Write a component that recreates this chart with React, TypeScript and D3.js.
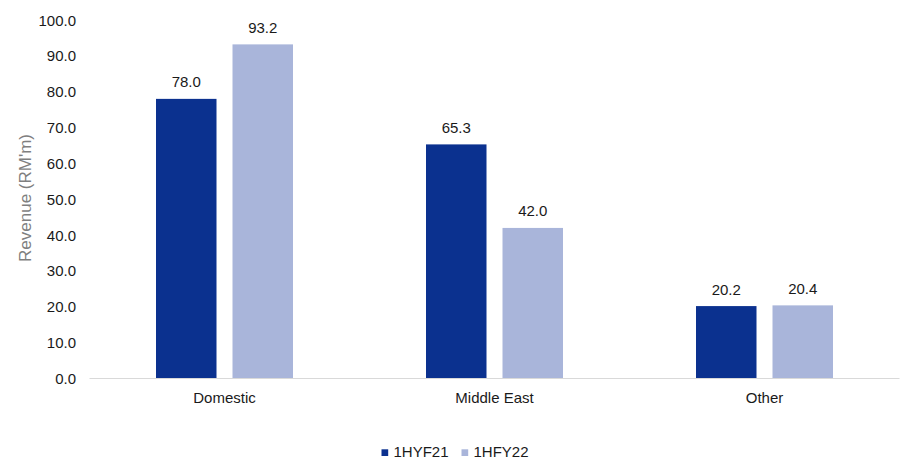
import React from "react";
import * as d3 from "d3";

const categories = ["Domestic", "Middle East", "Other"];
const seriesNames = ["1HYF21", "1HFY22"];
const series1HYF21 = [78.0, 65.3, 20.2];
const series1HFY22 = [93.2, 42.0, 20.4];
const yTicks = [0, 10, 20, 30, 40, 50, 60, 70, 80, 90, 100];
const colors = ["#0B318F", "#A9B5DA"];

export default function App() {
  const W = 905, H = 460;
  const x0 = d3.scaleBand<string>().domain(categories).range([89.5, 899.5]).paddingInner(0).paddingOuter(0);
  const y = d3.scaleLinear().domain([0, 100]).range([378.5, 20]);
  const barW = 60.5;
  const gap = 16;
  const seriesVals = [series1HYF21, series1HFY22];
  const font = "Liberation Sans, Arial, sans-serif";

  return (
    <svg width={W} height={H} style={{ position: "absolute", left: 0, top: 0 }} fontFamily={font}>
      {yTicks.map((t) => (
        <text key={t} x={76} y={y(t) + 5.5} textAnchor="end" fontSize={15} fill="#1a1a1a">
          {t.toFixed(1)}
        </text>
      ))}
      <text
        transform={`translate(25,${198}) rotate(-90)`}
        textAnchor="middle"
        dy="0.35em"
        fontSize={17}
        fill="#7f7f7f"
      >
        Revenue (RM'm)
      </text>
      {categories.map((c, i) => {
        const cx = x0(c)! + x0.bandwidth() / 2;
        return (
          <g key={c}>
            {seriesVals.map((vals, s) => {
              const bx = s === 0 ? cx - gap / 2 - barW : cx + gap / 2;
              const v = vals[i];
              return (
                <g key={s}>
                  <rect x={bx} y={y(v)} width={barW} height={y(0) - y(v)} fill={colors[s]} />
                  <text x={bx + barW / 2} y={y(v) - 11.5} textAnchor="middle" fontSize={15} fill="#1a1a1a">
                    {v.toFixed(1)}
                  </text>
                </g>
              );
            })}
            <text x={cx} y={403} textAnchor="middle" fontSize={15} fill="#1a1a1a">
              {c}
            </text>
          </g>
        );
      })}
      <line x1={89.5} x2={899.5} y1={378.5} y2={378.5} stroke="#D9D9D9" strokeWidth={1} />
      {seriesNames.map((n, s) => {
        const lx = s === 0 ? 381.5 : 461.5;
        return (
          <g key={n}>
            <rect x={lx} y={449.3} width={6.7} height={6.7} fill={colors[s]} />
            <text x={lx + 12} y={457.3} fontSize={15} fill="#1a1a1a">
              {n}
            </text>
          </g>
        );
      })}
    </svg>
  );
}
